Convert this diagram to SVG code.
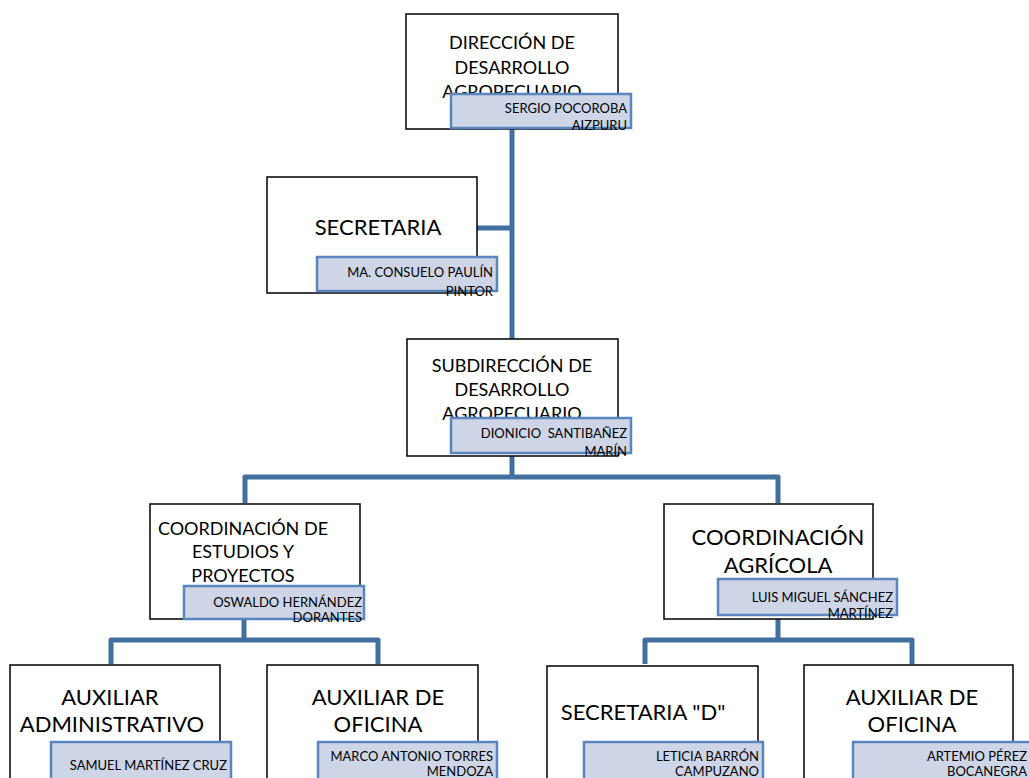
<svg xmlns="http://www.w3.org/2000/svg" width="1029" height="778" viewBox="0 0 1029 778">
<style>
.box{fill:#ffffff;stroke:#000000;stroke-width:1.5}
.nm{fill:#cdd5e7;stroke:#5a86bd;stroke-width:2.5}
.t{font-family:Lato,"Liberation Sans",sans-serif;fill:#000;text-anchor:middle}
.t18{font-size:18px}
.t22{font-size:22px}
.n{font-family:Lato,"Liberation Sans",sans-serif;font-size:13px;fill:#000;text-anchor:end}
.c{fill:none;stroke:#41709f;stroke-width:5;stroke-linejoin:round;stroke-linecap:butt}
</style>
<rect width="1029" height="778" fill="#ffffff"/>
<g id="connectors">
<path class="c" d="M512,127 V339"/>
<path class="c" d="M477,228 H512"/>
<path class="c" d="M512,456 V477"/>
<path class="c" d="M245,503 V477 H778 V503"/>
<path class="c" d="M244,619 V640"/>
<path class="c" d="M111,664 V640 H378 V664"/>
<path class="c" d="M778,619 V640"/>
<path class="c" d="M645,664 V640 H912 V664"/>
</g>
<g id="direccion">
<rect class="box" x="406" y="14" width="212" height="115"/>
<text class="t t18" x="512" y="49">DIRECCIÓN DE</text>
<text class="t t18" x="512" y="73.5">DESARROLLO</text>
<text class="t t18" x="512" y="98">AGROPECUARIO</text>
<rect class="nm" x="451" y="94" width="180" height="34"/>
<text class="n" x="627" y="113" font-size="13.3">SERGIO POCOROBA</text>
<text class="n" x="627" y="130" font-size="13.3">AIZPURU</text>
</g>
<g id="secretaria">
<rect class="box" x="267" y="177" width="210" height="116"/>
<text class="t t22" x="378" y="235">SECRETARIA</text>
<rect class="nm" x="317" y="257" width="180" height="34"/>
<text class="n" x="493" y="277" font-size="13.8">MA. CONSUELO PAULÍN</text>
<text class="n" x="493" y="296" font-size="13.8">PINTOR</text>
</g>
<g id="subdireccion">
<rect class="box" x="407" y="339" width="211" height="117"/>
<text class="t t18" x="512" y="372">SUBDIRECCIÓN DE</text>
<text class="t t18" x="512" y="396">DESARROLLO</text>
<text class="t t18" x="512" y="420">AGROPECUARIO</text>
<rect class="nm" x="451" y="418" width="180" height="35"/>
<text class="n" x="627" y="438" xml:space="preserve">DIONICIO  SANTIBAÑEZ</text>
<text class="n" x="627" y="456">MARÍN</text>
</g>
<g id="coord-estudios">
<rect class="box" x="150" y="504" width="210" height="115"/>
<text class="t t18" x="243" y="535">COORDINACIÓN DE</text>
<text class="t t18" x="243" y="558">ESTUDIOS Y</text>
<text class="t t18" x="243" y="582">PROYECTOS</text>
<rect class="nm" x="184" y="586" width="180" height="33"/>
<text class="n" x="362" y="607">OSWALDO HERNÁNDEZ</text>
<text class="n" x="362" y="622">DORANTES</text>
</g>
<g id="coord-agricola">
<rect class="box" x="664" y="504" width="209" height="115"/>
<text class="t t22" x="778" y="545">COORDINACIÓN</text>
<text class="t t22" x="778" y="573">AGRÍCOLA</text>
<rect class="nm" x="718" y="579" width="179" height="36"/>
<text class="n" x="893" y="602" font-size="13.3">LUIS MIGUEL SÁNCHEZ</text>
<text class="n" x="893" y="618" font-size="13.3">MARTÍNEZ</text>
</g>
<g id="aux-administrativo">
<rect class="box" x="10" y="665" width="210" height="120"/>
<text class="t t22" x="110" y="705">AUXILIAR</text>
<text class="t t22" x="112" y="732">ADMINISTRATIVO</text>
<rect class="nm" x="51" y="742" width="180" height="40"/>
<text class="n" x="227" y="770" font-size="12.3">SAMUEL MARTÍNEZ CRUZ</text>
</g>
<g id="aux-oficina-1">
<rect class="box" x="267" y="665" width="211" height="120"/>
<text class="t t22" x="378" y="705">AUXILIAR DE</text>
<text class="t t22" x="378" y="732">OFICINA</text>
<rect class="nm" x="318" y="742" width="179" height="40"/>
<text class="n" x="493" y="761" font-size="13.2">MARCO ANTONIO TORRES</text>
<text class="n" x="493" y="776" font-size="13.2">MENDOZA</text>
</g>
<g id="secretaria-d">
<rect class="box" x="547" y="666" width="211" height="120"/>
<text class="t t22" x="643" y="720">SECRETARIA "D"</text>
<rect class="nm" x="584" y="742" width="179" height="40"/>
<text class="n" x="759" y="761" font-size="12">LETICIA BARRÓN</text>
<text class="n" x="759" y="776" font-size="12">CAMPUZANO</text>
</g>
<g id="aux-oficina-2">
<rect class="box" x="804" y="665" width="209" height="120"/>
<text class="t t22" x="912" y="705">AUXILIAR DE</text>
<text class="t t22" x="912" y="732">OFICINA</text>
<rect class="nm" x="853" y="742" width="190" height="40"/>
<text class="n" x="1027" y="761" font-size="13.2">ARTEMIO PÉREZ</text>
<text class="n" x="1027" y="776" font-size="13.2">BOCANEGRA</text>
</g>
</svg>
